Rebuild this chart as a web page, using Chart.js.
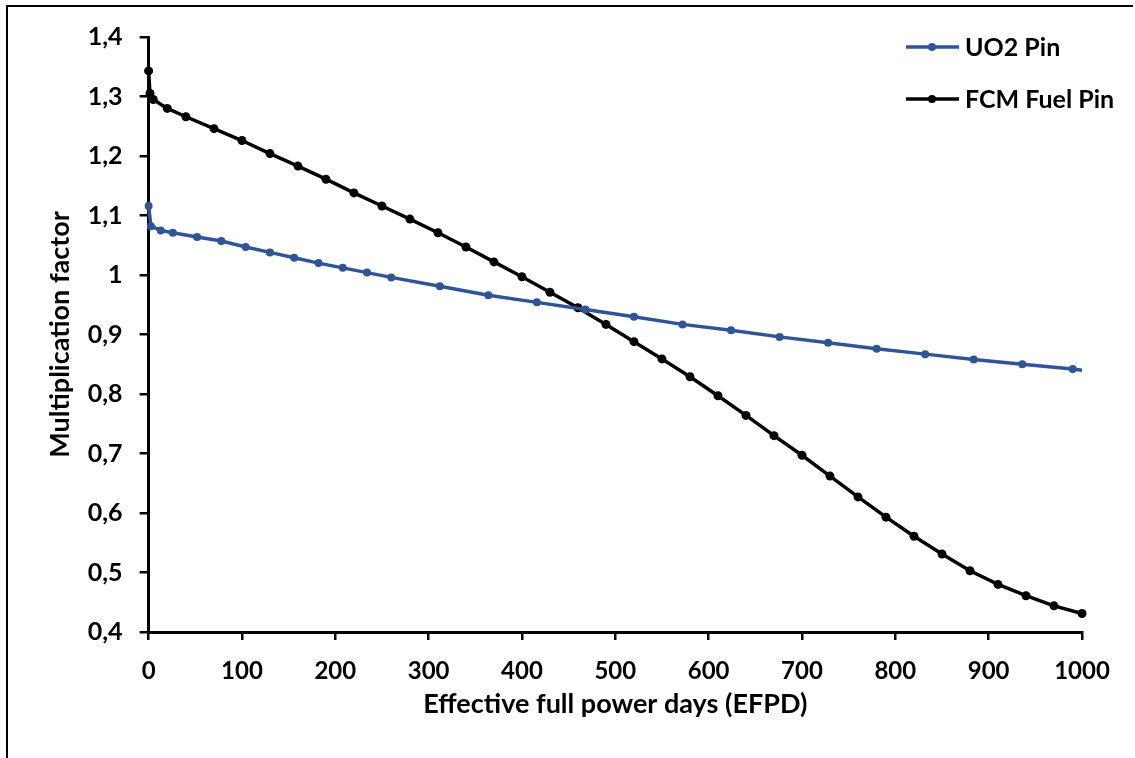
<!DOCTYPE html>
<html>
<head>
<meta charset="utf-8">
<script src="https://cdn.jsdelivr.net/npm/chart.js@4.4.0/dist/chart.umd.min.js"></script>
<style>
    html, body { margin: 0; padding: 0; background: #fff; }
    #wrap { width: 1135px; height: 758px; position: relative; }
</style>
</head>
<body>
<div id="wrap"><canvas id="kChart" width="1135" height="758"></canvas></div>
<script>
// UO2 pin: burnup steps (EFPD) and multiplication factor
const uo2Days = [0, 2.5, 13, 26, 52, 78, 104, 130, 156, 182, 208, 234, 260,
    312, 364, 416, 468, 520, 572, 624, 676, 728, 780, 832, 884, 936, 990, 1000];
const uo2K = [1.116, 1.082, 1.075, 1.071, 1.064, 1.057, 1.047, 1.038, 1.029, 1.020, 1.012, 1.004, 0.996,
    0.981, 0.966, 0.954, 0.942, 0.930, 0.917, 0.907, 0.896, 0.886, 0.876, 0.867, 0.858, 0.850, 0.842, 0.840];

// FCM fuel pin
const fcmDays = [0, 1.5, 5, 20, 40, 70, 100, 130, 160, 190, 220, 250, 280, 310, 340, 370, 400,
    430, 460, 490, 520, 550, 580, 610, 640, 670, 700, 730, 760, 790, 820, 850, 880, 910, 940, 970, 1000];
const fcmK = [1.343, 1.305, 1.295, 1.280, 1.266, 1.246, 1.226, 1.204, 1.183, 1.161, 1.138, 1.116, 1.094,
    1.071, 1.047, 1.022, 0.997, 0.971, 0.945, 0.917, 0.888, 0.859, 0.829, 0.797, 0.764, 0.730, 0.697,
    0.662, 0.627, 0.593, 0.561, 0.531, 0.503, 0.480, 0.461, 0.444, 0.431];

const seriesNames = ['UO2 Pin', 'FCM Fuel Pin'];
const xTicks = [0, 100, 200, 300, 400, 500, 600, 700, 800, 900, 1000];
const yTicks = [0.4, 0.5, 0.6, 0.7, 0.8, 0.9, 1.0, 1.1, 1.2, 1.3, 1.4];

const BLUE = '#2f5597';
const FONT = 'Lato, "Open Sans", sans-serif';

function toPoints(xs, ys) {
    return xs.map(function (x, i) { return { x: x, y: ys[i] }; });
}

// legend drawn inside the plot, top right, like the original sheet
const insideLegend = {
    id: 'insideLegend',
    afterDraw: function (chart) {
        const c = chart.ctx;
        c.save();
        // frame of the pasted figure
        c.strokeStyle = '#000';
        c.lineWidth = 2;
        c.beginPath();
        c.moveTo(7, 758);
        c.lineTo(7, 6);
        c.lineTo(1133, 6);
        c.stroke();

        chart.data.datasets.forEach(function (ds, i) {
            const y = 47 + i * 52;
            c.strokeStyle = ds.borderColor;
            c.lineWidth = 3.5;
            c.beginPath();
            c.moveTo(906, y);
            c.lineTo(959, y);
            c.stroke();
            c.fillStyle = ds.borderColor;
            c.beginPath();
            c.arc(932, y, 4, 0, Math.PI * 2);
            c.fill();
            c.fillStyle = '#000';
            c.font = 'bold 25px ' + FONT;
            c.textBaseline = 'middle';
            c.textAlign = 'left';
            c.fillText(ds.label, 965, y + 1);
        });
        c.restore();
    }
};

new Chart(document.getElementById('kChart').getContext('2d'), {
    type: 'line',
    data: {
        datasets: [
            {
                label: seriesNames[0],
                data: toPoints(uo2Days, uo2K),
                borderColor: BLUE,
                backgroundColor: BLUE,
                borderWidth: 3.5,
                pointRadius: uo2Days.map(function (d, i) { return i === uo2Days.length - 1 ? 0 : 4; }),
                pointBorderWidth: 0,
                tension: 0,
                clip: false
            },
            {
                label: seriesNames[1],
                data: toPoints(fcmDays, fcmK),
                borderColor: '#000',
                backgroundColor: '#000',
                borderWidth: 3.5,
                pointRadius: 4.5,
                pointBorderWidth: 0,
                tension: 0,
                clip: false
            }
        ]
    },
    options: {
        responsive: false,
        animation: false,
        layout: { padding: { left: 44, right: 53, top: 37, bottom: 38 } },
        plugins: {
            legend: { display: false },
            tooltip: { enabled: false }
        },
        scales: {
            x: {
                type: 'linear',
                min: 0,
                max: 1000,
                afterFit: function (s) { s.height = 88; },
                afterBuildTicks: function (s) { s.ticks = xTicks.map(function (v) { return { value: v }; }); },
                border: { display: true, color: '#000', width: 3 },
                grid: { display: true, drawOnChartArea: false, drawTicks: true, tickLength: 8, color: '#000', lineWidth: 2.5 },
                ticks: {
                    color: '#000',
                    padding: 17,
                    maxRotation: 0,
                    font: { family: FONT, size: 24, weight: 'bold' },
                    callback: function (v) { return String(v); }
                },
                title: {
                    display: true,
                    text: 'Effective full power days (EFPD)',
                    color: '#000',
                    padding: 0,
                    font: { family: FONT, size: 27, weight: 'bold' }
                }
            },
            y: {
                min: 0.4,
                max: 1.4,
                afterFit: function (s) { s.width = 104.6; },
                afterBuildTicks: function (s) { s.ticks = yTicks.map(function (v) { return { value: v }; }); },
                border: { display: true, color: '#000', width: 3 },
                grid: { display: true, drawOnChartArea: false, drawTicks: true, tickLength: 9, color: '#000', lineWidth: 2.5 },
                ticks: {
                    color: '#000',
                    padding: 17,
                    font: { family: FONT, size: 25, weight: 'bold' },
                    callback: function (v) { return String(Math.round(v * 10) / 10).replace('.', ','); }
                },
                title: {
                    display: true,
                    text: 'Multiplication factor',
                    color: '#000',
                    padding: 0,
                    font: { family: FONT, size: 27, weight: 'bold' }
                }
            }
        }
    },
    plugins: [insideLegend]
});
</script>
</body>
</html>
